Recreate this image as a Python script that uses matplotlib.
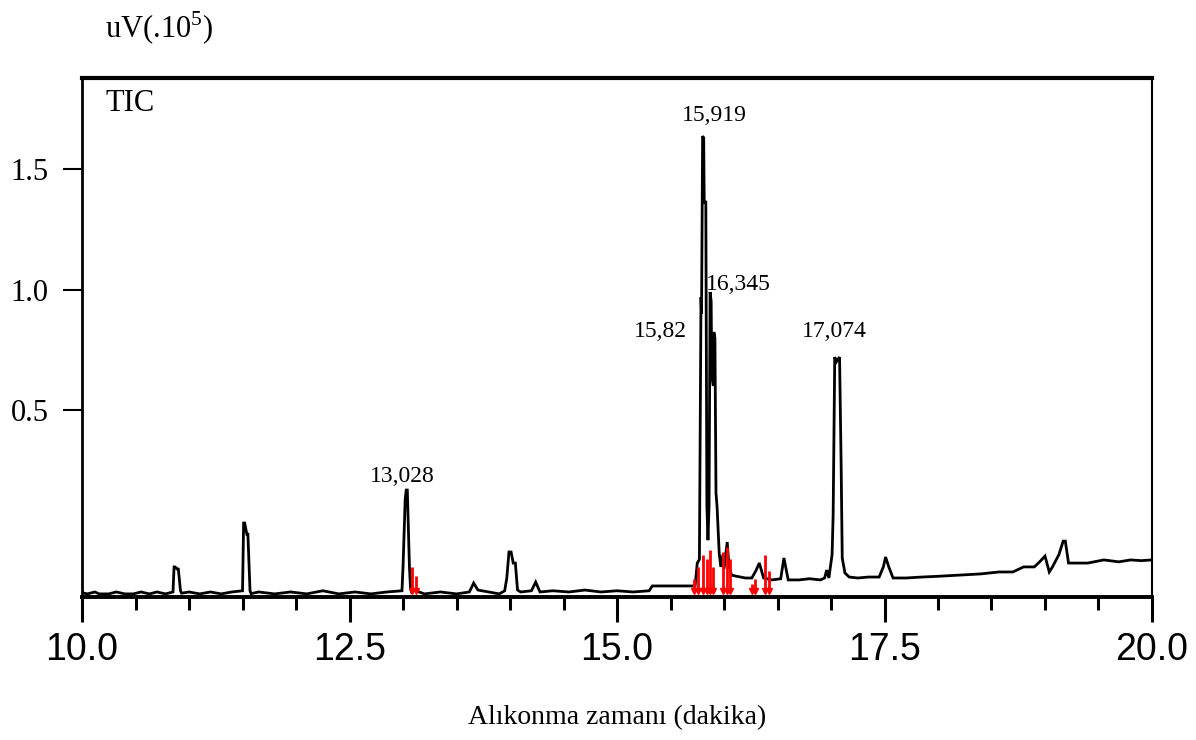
import matplotlib.pyplot as plt

# TIC chromatogram, retention time 10-20 min

# trace: retention time (min) and signal (uV x 10^5, axis units)
time_min = [
    9.97, 10.05, 10.12, 10.16, 10.25, 10.32, 10.40, 10.48, 10.55, 10.63, 10.70, 10.78,
    10.85, 10.86, 10.87, 10.89, 10.90, 10.92, 10.93,
    11.00, 11.10, 11.20, 11.30, 11.40, 11.50,
    11.51, 11.52, 11.54, 11.55, 11.57, 11.58,
    11.65, 11.80, 11.95, 12.10, 12.25, 12.40, 12.55, 12.70, 12.85, 12.99,
    13.00, 13.02, 13.03, 13.04, 13.06, 13.07, 13.08,
    13.10, 13.20, 13.35, 13.50, 13.62, 13.66, 13.70, 13.80, 13.90, 13.95,
    13.97, 13.99, 14.01, 14.03, 14.05, 14.07,
    14.10, 14.20, 14.24, 14.28, 14.40, 14.55, 14.70, 14.85, 15.00, 15.15, 15.30,
    15.33, 15.50, 15.70, 15.73,
    15.75, 15.77, 15.785, 15.79, 15.80, 15.81, 15.815, 15.83, 15.84, 15.85,
    15.86, 15.87, 15.88, 15.885, 15.90, 15.905, 15.915, 15.925, 15.935, 15.955,
    15.97, 15.99, 16.00, 16.03, 16.045, 16.07,
    16.12, 16.20, 16.26, 16.30, 16.33, 16.37, 16.45, 16.53, 16.56, 16.60, 16.70,
    16.80, 16.90,
    16.94, 16.96, 16.98, 17.01, 17.02, 17.035, 17.05, 17.08, 17.095, 17.105, 17.13, 17.17,
    17.25, 17.35, 17.45, 17.49, 17.51, 17.54, 17.58, 17.70, 17.85, 18.00, 18.20,
    18.40, 18.57, 18.70, 18.80, 18.90,
    18.95, 19.00, 19.04, 19.07, 19.13, 19.17, 19.19, 19.22, 19.26, 19.40, 19.55,
    19.69, 19.80, 19.90, 20.00,
]
signal = [
    -0.255, -0.263, -0.255, -0.263, -0.263, -0.255, -0.263, -0.263, -0.255, -0.263, -0.255, -0.263,
    -0.255, -0.151, -0.151, -0.160, -0.160, -0.250, -0.260,
    -0.255, -0.263, -0.255, -0.263, -0.255, -0.250,
    0.031, 0.031, -0.015, -0.015, -0.250, -0.262,
    -0.255, -0.263, -0.255, -0.263, -0.250, -0.263, -0.255, -0.263, -0.255, -0.250,
    -0.151, 0.127, 0.168, 0.168, -0.151, -0.240, -0.255,
    -0.247, -0.263, -0.255, -0.263, -0.255, -0.218, -0.247, -0.255, -0.263, -0.250,
    -0.197, -0.089, -0.089, -0.135, -0.135, -0.247,
    -0.255, -0.250, -0.214, -0.255, -0.250, -0.255, -0.247, -0.255, -0.250, -0.255, -0.250,
    -0.230, -0.230, -0.230, -0.230,
    -0.135, -0.120, 0.969, 0.900, 1.637, 1.630, 1.363, 1.363, 0.098, -0.040,
    0.100, 0.990, 0.950, 0.645, 0.600, 0.824, 0.800, 0.156, 0.100, -0.093,
    -0.151, -0.100, -0.160, -0.048, -0.140, -0.185,
    -0.190, -0.197, -0.197, -0.165, -0.135, -0.197, -0.205, -0.200, -0.114, -0.205, -0.205,
    -0.200, -0.205,
    -0.197, -0.164, -0.197, -0.100, 0.064, 0.720, 0.700, 0.720, 0.263, -0.114, -0.176, -0.193,
    -0.197, -0.193, -0.193, -0.150, -0.110, -0.151, -0.197, -0.197, -0.193, -0.190, -0.185,
    -0.180, -0.172, -0.172, -0.151, -0.151,
    -0.130, -0.106, -0.172, -0.151, -0.100, -0.044, -0.044, -0.135, -0.135, -0.135, -0.122,
    -0.130, -0.122, -0.125, -0.122,
]

# integration marks (red)
mark_times = [13.08, 13.12, 15.72, 15.76, 15.80, 15.84, 15.87, 15.90, 15.99,
              16.03, 16.06, 16.26, 16.29, 16.38, 16.42]
mark_tops = [-0.151, -0.19, -0.20, -0.15, -0.10, -0.12, -0.08, -0.15, -0.09,
             -0.07, -0.12, -0.22, -0.20, -0.10, -0.17]
mark_base = -0.25

# peak labels
peak_labels = ["13,028", "15,82", "15,919", "16,345", "17,074"]
label_x = [12.99, 15.41, 15.907, 16.131, 17.028]
label_y = [0.226, 0.828, 1.724, 1.023, 0.824]

xtick_major = [10.0, 12.5, 15.0, 17.5, 20.0]
xtick_labels = ["10.0", "12.5", "15.0", "17.5", "20.0"]
xtick_minor = [10.5, 11.0, 11.5, 12.0, 13.0, 13.5, 14.0, 14.5, 15.5, 16.0,
               16.5, 17.0, 18.0, 18.5, 19.0, 19.5]
ytick_vals = [0.5, 1.0, 1.5]
ytick_labels = ["0.5", "1.0", "1.5"]

serif = "Liberation Serif"
plt.rcParams["mathtext.fontset"] = "custom"
plt.rcParams["mathtext.rm"] = serif

fig = plt.figure(figsize=(11.96, 7.4), dpi=100)
ax = fig.add_axes([0.0686, 0.1932, 0.8946, 0.7014])

ax.plot(time_min, signal, color="black", lw=2.0, solid_joinstyle="miter")

ax.vlines(mark_times, mark_base, mark_tops, color="red", lw=2)
ax.plot(mark_times, [mark_base] * len(mark_times), "v", color="red", ms=5)

for txt, x, y in zip(peak_labels, label_x, label_y):
    ax.text(x, y, txt, ha="center", va="center", fontsize=17, family=serif)

ax.text(0.0215, 0.951, "TIC", transform=ax.transAxes, ha="left",
        va="center", fontsize=22, family=serif)

ax.set_xlim(10, 20)
ax.set_ylim(-0.276, 1.878)

ax.set_xticks(xtick_major)
ax.set_xticklabels(xtick_labels, family="Liberation Sans", fontsize=27)
ax.set_xticks(xtick_minor, minor=True)
ax.tick_params(axis="x", which="major", direction="out", length=18,
               width=2.2, pad=7)
ax.tick_params(axis="x", which="minor", direction="out", length=9, width=2.2)

ax.set_yticks(ytick_vals)
ax.set_yticklabels(ytick_labels, family=serif, fontsize=22)
ax.tick_params(axis="y", direction="out", length=14, width=1.5, pad=10)

ax.spines["top"].set_linewidth(3)
ax.spines["bottom"].set_linewidth(2.8)
ax.spines["left"].set_linewidth(2)
ax.spines["right"].set_linewidth(1.5)

fig.text(0.0878, 0.962, "uV(.10$^{5}$)", ha="left", va="center",
         fontsize=22, family=serif)
fig.text(0.516, 0.0297, "Alıkonma zamanı (dakika)", ha="center",
         va="center", fontsize=20, family=serif)

fig.savefig("out.png", dpi=100)
